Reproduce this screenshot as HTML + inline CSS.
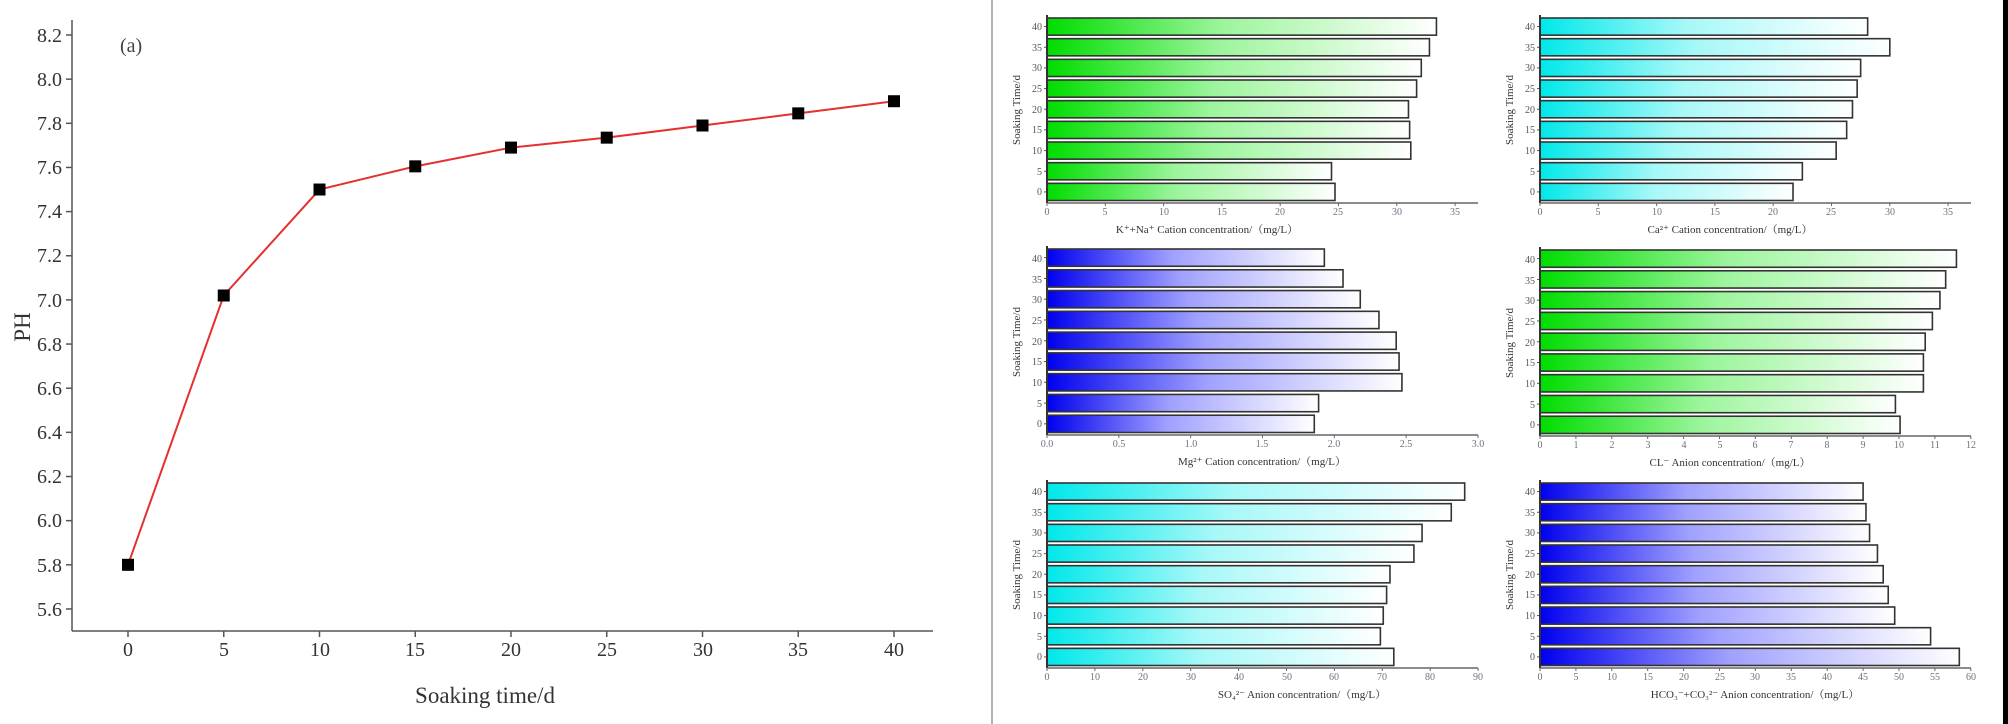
<!DOCTYPE html>
<html><head><meta charset="utf-8"><style>
html,body{margin:0;padding:0;background:#fff;}
svg{display:block;font-family:"Liberation Serif","Noto Serif CJK SC",serif;}
.t{font-size:10px;fill:#6b7280;}
.yl{font-size:10px;fill:#555;text-anchor:end;}
.xt{text-anchor:middle;}
.lab{font-size:11px;fill:#333;text-anchor:middle;}
.big{font-size:20px;fill:#333;}
</style></head><body>
<svg id="s" width="2008" height="724" viewBox="0 0 2008 724" xmlns="http://www.w3.org/2000/svg">
<defs>
<linearGradient id="gG" x1="0" x2="1" y1="0" y2="0"><stop offset="0" stop-color="#00dd00"/><stop offset="0.45" stop-color="#9cf59c"/><stop offset="1" stop-color="#ffffff"/></linearGradient>
<linearGradient id="gC" x1="0" x2="1" y1="0" y2="0"><stop offset="0" stop-color="#00e8ea"/><stop offset="0.45" stop-color="#a8f8f8"/><stop offset="1" stop-color="#ffffff"/></linearGradient>
<linearGradient id="gB" x1="0" x2="1" y1="0" y2="0"><stop offset="0" stop-color="#0000ee"/><stop offset="0.45" stop-color="#a0a0ff"/><stop offset="1" stop-color="#ffffff"/></linearGradient>
</defs>
<rect width="2008" height="724" fill="#fff"/>
<!-- separators -->
<line x1="992" y1="0" x2="992" y2="724" stroke="#999" stroke-width="1.5"/>
<rect x="2003" y="0" width="5" height="724" fill="#000"/>

<!-- Left chart -->
<g stroke="#555" stroke-width="1.5" fill="none">
<line x1="72" y1="20" x2="72" y2="631"/>
<line x1="72" y1="631" x2="933" y2="631"/>
</g>
<g id="lt"></g>
<g class="big" text-anchor="end">
<text x="62" y="42">8.2</text><text x="62" y="86">8.0</text><text x="62" y="130">7.8</text><text x="62" y="174">7.6</text><text x="62" y="218">7.4</text><text x="62" y="262">7.2</text><text x="62" y="307">7.0</text><text x="62" y="351">6.8</text><text x="62" y="395">6.6</text><text x="62" y="439">6.4</text><text x="62" y="483">6.2</text><text x="62" y="527">6.0</text><text x="62" y="572">5.8</text><text x="62" y="616">5.6</text>
</g>
<g class="big" text-anchor="middle">
<text x="128" y="656">0</text><text x="224" y="656">5</text><text x="320" y="656">10</text><text x="415" y="656">15</text><text x="511" y="656">20</text><text x="607" y="656">25</text><text x="703" y="656">30</text><text x="798" y="656">35</text><text x="894" y="656">40</text>
</g>
<text x="485" y="703" class="big" font-size="23" text-anchor="middle" style="font-size:23px">Soaking time/d</text>
<text transform="translate(30,327) rotate(-90)" text-anchor="middle" style="font-size:23px;fill:#333">PH</text>
<text x="120" y="52" style="font-size:20px;fill:#444">(a)</text>
<polyline id="pl" fill="none" stroke="#e53030" stroke-width="2"/>
<g id="mk"></g>

<!-- Panels -->
<g id="bars"></g>

<!-- Panel A: K+Na -->
<g transform="translate(1047,203)" class="t">
<g class="xt"><text x="0" y="12">0</text><text x="58" y="12">5</text><text x="117" y="12">10</text><text x="175" y="12">15</text><text x="233" y="12">20</text><text x="291" y="12">25</text><text x="350" y="12">30</text><text x="408" y="12">35</text></g>
<g class="yl"><text x="-5" y="-173">40</text><text x="-5" y="-152">35</text><text x="-5" y="-132">30</text><text x="-5" y="-111">25</text><text x="-5" y="-90">20</text><text x="-5" y="-70">15</text><text x="-5" y="-49">10</text><text x="-5" y="-28">5</text><text x="-5" y="-8">0</text></g>
<text x="160" y="30" class="lab">K⁺+Na⁺ Cation concentration/（mg/L）</text>
<text transform="translate(-27,-93) rotate(-90)" class="lab">Soaking Time/d</text>
</g>
<!-- Panel B: Ca -->
<g transform="translate(1540,203)" class="t">
<g class="xt"><text x="0" y="12">0</text><text x="58" y="12">5</text><text x="117" y="12">10</text><text x="175" y="12">15</text><text x="233" y="12">20</text><text x="291" y="12">25</text><text x="350" y="12">30</text><text x="408" y="12">35</text></g>
<g class="yl"><text x="-5" y="-173">40</text><text x="-5" y="-152">35</text><text x="-5" y="-132">30</text><text x="-5" y="-111">25</text><text x="-5" y="-90">20</text><text x="-5" y="-70">15</text><text x="-5" y="-49">10</text><text x="-5" y="-28">5</text><text x="-5" y="-8">0</text></g>
<text x="190" y="30" class="lab">Ca²⁺ Cation concentration/（mg/L）</text>
<text transform="translate(-27,-93) rotate(-90)" class="lab">Soaking Time/d</text>
</g>
<!-- Panel C: Mg -->
<g transform="translate(1047,435)" class="t">
<g class="xt"><text x="0" y="12">0.0</text><text x="72" y="12">0.5</text><text x="144" y="12">1.0</text><text x="215" y="12">1.5</text><text x="287" y="12">2.0</text><text x="359" y="12">2.5</text><text x="431" y="12">3.0</text></g>
<g class="yl"><text x="-5" y="-173">40</text><text x="-5" y="-152">35</text><text x="-5" y="-132">30</text><text x="-5" y="-111">25</text><text x="-5" y="-90">20</text><text x="-5" y="-70">15</text><text x="-5" y="-49">10</text><text x="-5" y="-28">5</text><text x="-5" y="-8">0</text></g>
<text x="215" y="30" class="lab">Mg²⁺ Cation concentration/（mg/L）</text>
<text transform="translate(-27,-93) rotate(-90)" class="lab">Soaking Time/d</text>
</g>
<!-- Panel D: Cl -->
<g transform="translate(1540,436)" class="t">
<g class="xt"><text x="0" y="12">0</text><text x="36" y="12">1</text><text x="72" y="12">2</text><text x="108" y="12">3</text><text x="144" y="12">4</text><text x="180" y="12">5</text><text x="215" y="12">6</text><text x="251" y="12">7</text><text x="287" y="12">8</text><text x="323" y="12">9</text><text x="359" y="12">10</text><text x="395" y="12">11</text><text x="431" y="12">12</text></g>
<g class="yl"><text x="-5" y="-173">40</text><text x="-5" y="-152">35</text><text x="-5" y="-132">30</text><text x="-5" y="-111">25</text><text x="-5" y="-90">20</text><text x="-5" y="-70">15</text><text x="-5" y="-49">10</text><text x="-5" y="-28">5</text><text x="-5" y="-8">0</text></g>
<text x="190" y="30" class="lab">CL⁻ Anion concentration/（mg/L）</text>
<text transform="translate(-27,-93) rotate(-90)" class="lab">Soaking Time/d</text>
</g>
<!-- Panel E: SO4 -->
<g transform="translate(1047,668)" class="t">
<g class="xt"><text x="0" y="12">0</text><text x="48" y="12">10</text><text x="96" y="12">20</text><text x="144" y="12">30</text><text x="192" y="12">40</text><text x="240" y="12">50</text><text x="287" y="12">60</text><text x="335" y="12">70</text><text x="383" y="12">80</text><text x="431" y="12">90</text></g>
<g class="yl"><text x="-5" y="-173">40</text><text x="-5" y="-152">35</text><text x="-5" y="-132">30</text><text x="-5" y="-111">25</text><text x="-5" y="-90">20</text><text x="-5" y="-70">15</text><text x="-5" y="-49">10</text><text x="-5" y="-28">5</text><text x="-5" y="-8">0</text></g>
<text x="255" y="30" class="lab">SO₄²⁻ Anion concentration/（mg/L）</text>
<text transform="translate(-27,-93) rotate(-90)" class="lab">Soaking Time/d</text>
</g>
<!-- Panel F: HCO3 -->
<g transform="translate(1540,668)" class="t">
<g class="xt"><text x="0" y="12">0</text><text x="36" y="12">5</text><text x="72" y="12">10</text><text x="108" y="12">15</text><text x="144" y="12">20</text><text x="180" y="12">25</text><text x="215" y="12">30</text><text x="251" y="12">35</text><text x="287" y="12">40</text><text x="323" y="12">45</text><text x="359" y="12">50</text><text x="395" y="12">55</text><text x="431" y="12">60</text></g>
<g class="yl"><text x="-5" y="-173">40</text><text x="-5" y="-152">35</text><text x="-5" y="-132">30</text><text x="-5" y="-111">25</text><text x="-5" y="-90">20</text><text x="-5" y="-70">15</text><text x="-5" y="-49">10</text><text x="-5" y="-28">5</text><text x="-5" y="-8">0</text></g>
<text x="215" y="30" class="lab">HCO₃⁻+CO₃²⁻ Anion concentration/（mg/L）</text>
<text transform="translate(-27,-93) rotate(-90)" class="lab">Soaking Time/d</text>
</g>
</svg>
<script>
(function(){
var NS="http://www.w3.org/2000/svg";
function el(p,n,a){var e=document.createElementNS(NS,n);for(var k in a)e.setAttribute(k,a[k]);p.appendChild(e);return e;}
// left chart
var ph=[5.8,7.02,7.5,7.605,7.69,7.735,7.79,7.845,7.9];
var lt=document.getElementById('lt'),mk=document.getElementById('mk');
var pts=[];
for(var i=0;i<9;i++){var x=128+i*95.75,y=35+(8.2-ph[i])/0.2*44.15;pts.push(x+','+y);
 el(mk,'rect',{x:x-6,y:y-6,width:12,height:12,fill:'#000'});
 el(lt,'line',{x1:x,y1:631,x2:x,y2:637,stroke:'#555','stroke-width':1.5});}
document.getElementById('pl').setAttribute('points',pts.join(' '));
for(var j=0;j<14;j++){var y=35+j*44.15;el(lt,'line',{x1:66,y1:y,x2:72,y2:y,stroke:'#555','stroke-width':1.5});}
// panels
var P=[
 {x:1047,T:17,A:203,s:11.66,g:'gG',n:8,st:58.3,v:[33.4,32.8,32.1,31.7,31.0,31.1,31.2,24.4,24.7]},
 {x:1540,T:17,A:203,s:11.66,g:'gC',n:8,st:58.3,v:[28.1,30.0,27.5,27.2,26.8,26.3,25.4,22.5,21.7]},
 {x:1047,T:248,A:435,s:143.7,g:'gB',n:7,st:71.83,v:[1.93,2.06,2.18,2.31,2.43,2.45,2.47,1.89,1.86]},
 {x:1540,T:249,A:436,s:35.9,g:'gG',n:13,st:35.9,v:[11.6,11.3,11.14,10.93,10.73,10.68,10.68,9.9,10.03]},
 {x:1047,T:482,A:668,s:4.79,g:'gC',n:10,st:47.9,v:[87.2,84.4,78.3,76.6,71.6,70.9,70.2,69.6,72.4]},
 {x:1540,T:482,A:668,s:7.18,g:'gB',n:13,st:35.9,v:[45,45.4,45.9,47,47.8,48.5,49.4,54.4,58.4]}
];
var b=document.getElementById('bars');
P.forEach(function(p){
 var h=(p.A-p.T)/9;
 p.v.forEach(function(v,i){
  var y=p.T+1+i*h;
  el(b,'rect',{x:p.x,y:y,width:v*p.s,height:h-3.5,fill:'url(#'+p.g+')',stroke:'#333','stroke-width':1.6});
  el(b,'line',{x1:p.x-3,y1:y+(h-3.5)/2,x2:p.x,y2:y+(h-3.5)/2,stroke:'#555'});
 });
 el(b,'line',{x1:p.x,y1:p.T-2,x2:p.x,y2:p.A,stroke:'#333','stroke-width':2});
 el(b,'line',{x1:p.x,y1:p.A,x2:p.x+431,y2:p.A,stroke:'#666','stroke-width':1.5});
 for(var k=0;k<p.n;k++){var x=p.x+k*p.st;el(b,'line',{x1:x,y1:p.A,x2:x,y2:p.A+3,stroke:'#666'});}
});
})();
</script>
</body></html>
